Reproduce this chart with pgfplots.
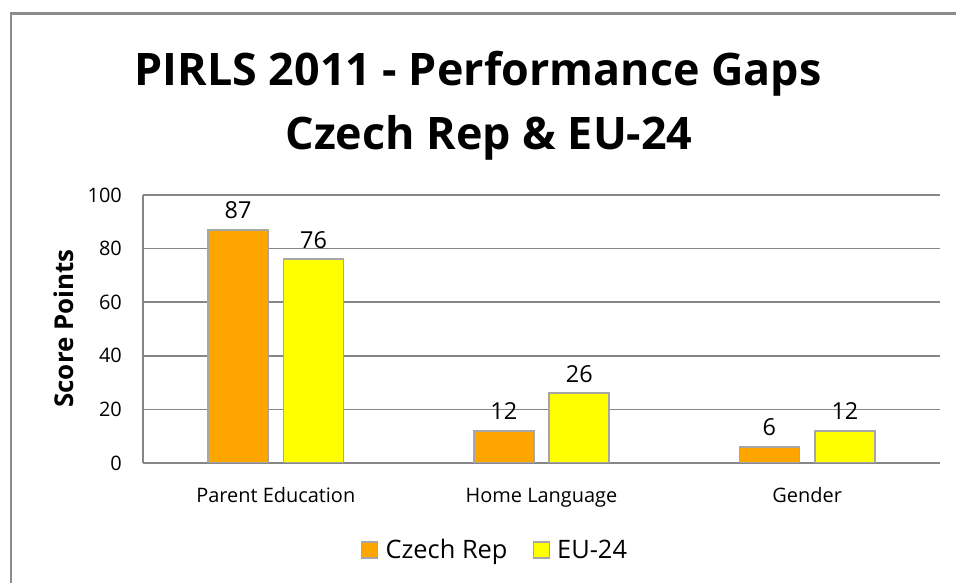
\documentclass[border=0pt]{standalone}
\usepackage{pgfplots}
\pgfplotsset{compat=1.18}
\usepackage{fontspec}
\setmainfont{Open Sans}
\definecolor{czech}{HTML}{FFA500}
\definecolor{eu}{HTML}{FFFF00}
\definecolor{barline}{HTML}{A6A6A6}
\definecolor{gridc}{HTML}{868686}
\definecolor{framec}{HTML}{8C8C8C}
\begin{document}
\begin{tikzpicture}[x=1bp,y=1bp]
\useasboundingbox (0,0) rectangle (956,583);
\fill[white] (0,0) rectangle (956,583);
\draw[framec, line width=2.5bp] (11,-10) -- (11,569.5) -- (970,569.5);
\node[anchor=base, font=\fontsize{45}{50}\selectfont\bfseries] at (478,497) {PIRLS 2011 - Performance Gaps};
\node[anchor=base, font=\fontsize{45}{50}\selectfont\bfseries] at (489,433) {Czech Rep \& EU-24};
\node[anchor=base, rotate=90, inner sep=0, font=\fontsize{26}{30}\selectfont\bfseries] at (73,254.5) {Score Points};
\begin{axis}[
  at={(143bp,120bp)}, anchor=south west,
  width=797bp, height=268bp, scale only axis,
  xmin=-0.5, xmax=2.5, ymin=0, ymax=100,
  ytick={0,20,...,100}, xtick={0,1,2},
  xticklabels={Parent Education, Home Language, Gender},
  ymajorgrids, grid style={gridc, line width=1.5bp},
  axis x line*=bottom, axis y line*=left,
  axis line style={gridc, line width=1.5bp},
  major tick length=0pt,
  tick label style={font=\fontsize{20}{23}\selectfont, inner sep=0pt},
  /pgf/number format/assume math mode=true,
  yticklabel style={anchor=east, xshift=-21bp},
  xticklabel style={anchor=base, yshift=-40bp},
  ybar=15.5bp, bar width=60bp,
  nodes near coords,
  every node near coord/.append style={font=\fontsize{23.5}{26}\selectfont, anchor=south, inner sep=0pt, yshift=10bp},
  legend style={draw=none, at={(0.441,-0.325)}, anchor=center, legend columns=2,
    font=\fontsize{25.5}{28}\selectfont, nodes={inner sep=1bp},
    /tikz/every even column/.append style={column sep=24bp}},
  legend image code/.code={\draw[#1, line width=1.5bp] (0bp,-8bp) rectangle (16bp,8bp); \path (22bp,0bp);},
]
\addplot[fill=czech, draw=barline, line width=1.8bp] coordinates {(0,87) (1,12) (2,6)};
\addplot[fill=eu, draw=barline, line width=1.8bp] coordinates {(0,76) (1,26) (2,12)};
\legend{Czech Rep, EU-24}
\end{axis}
\end{tikzpicture}
\end{document}
